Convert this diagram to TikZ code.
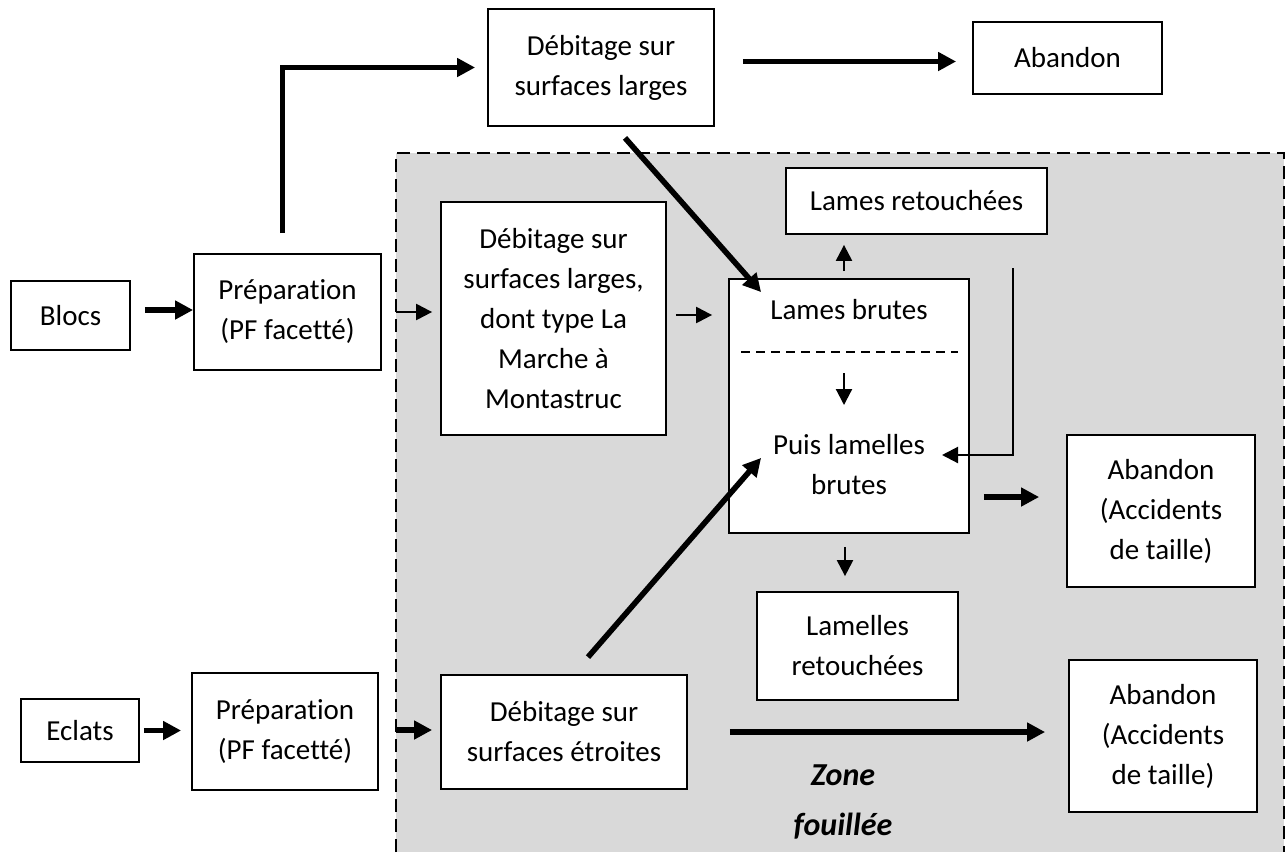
\documentclass[tikz,border=0pt]{standalone}
\usepackage{fontspec}
\setmainfont{Carlito}[Ligatures={NoCommon}]
\usetikzlibrary{arrows.meta}

\definecolor{zonegray}{RGB}{217,217,217}

\begin{document}
\begin{tikzpicture}[x=0.5pt,y=-0.5pt,
  every node/.style={font=\fontsize{14.5}{20}\selectfont},
  box/.style={draw,fill=white,line width=0.9pt,align=center,inner sep=2pt},
  thinarr/.style={line width=1.1pt,-{Triangle[length=8pt,width=8pt]}},
  thickarr/.style={line width=2.8pt,-{Triangle[length=9pt,width=9pt]}}]
  % page frame, pixel units, y downwards
  \useasboundingbox (0,0) rectangle (1288,852);

  % zone fouillee (runs off the bottom edge)
  \fill[zonegray] (396,153) rectangle (1284,852);
  \draw[line width=0.9pt,dash pattern=on 6.5pt off 3.5pt] (396,852) |- (1284,153) -- (1284,852);
  \node[font=\fontsize{16}{25}\selectfont\bfseries\itshape,align=center] (zone) at (843,802) {Zone\\fouillée};

  % left column
  \node[box,minimum width=59.5pt,minimum height=34.5pt] (blocs) at (70.5,315.5) {Blocs};
  \node[box,minimum width=93.5pt,minimum height=58pt] (prepA) at (287.5,312) {Préparation\\(PF facetté)};
  \node[box,minimum width=59pt,minimum height=31.5pt] (eclats) at (80,730.5) {Eclats};
  \node[box,minimum width=93pt,minimum height=58.5pt] (prepB) at (285,731.5) {Préparation\\(PF facetté)};

  % debitage
  \node[box,minimum width=113pt,minimum height=58.5pt] (debA) at (601,67.5) {Débitage sur\\surfaces larges};
  \node[box,minimum width=112.5pt,minimum height=116.5pt] (debB) at (553.5,318.5)
    {Débitage sur\\surfaces larges,\\dont type La\\Marche à\\Montastruc};
  \node[box,minimum width=123pt,minimum height=57pt] (debC) at (564,732) {Débitage sur\\surfaces étroites};

  % products
  \node[box,minimum width=120pt,minimum height=127pt] (brutes) at (849,406) {};
  \node (lb) at (849,310) {Lames brutes};
  \node[align=center] (pl) at (849,465) {Puis lamelles\\brutes};
  \draw[line width=0.9pt,dash pattern=on 4.5pt off 3pt] (741,352) -- (958,352);
  \coordinate (dnA) at (844,373);
  \coordinate (dnB) at (844,405);
  \node[box,minimum width=130.5pt,minimum height=33pt] (lamret) at (916.5,201) {Lames retouchées};
  \node[box,minimum width=100.5pt,minimum height=54pt] (lamlret) at (857.5,646) {Lamelles\\retouchées};

  % abandons
  \node[box,minimum width=94.5pt,minimum height=36pt] (abanA) at (1067.5,58) {Abandon};
  \node[box,minimum width=94pt,minimum height=76pt] (abanB) at (1161,511) {Abandon\\(Accidents\\de taille)};
  \node[box,minimum width=94pt,minimum height=76pt] (abanC) at (1163,736) {Abandon\\(Accidents\\de taille)};

  % connectors
  \draw[thickarr,shorten <=7pt] (blocs.east |- 0,310) -- (prepA.west |- 0,310);
  \draw[thickarr,shorten >=6pt] ([xshift=-2.5pt,yshift=10pt]prepA.north) |- (debA.west);
  \draw[thickarr,shorten <=14pt,shorten >=8pt] ([yshift=3pt]debA.east) -- ([yshift=3pt]debA.east -| abanA.west);
  \draw[thickarr] ([xshift=12pt,yshift=-5.5pt]debA.south) -- ([xshift=16.5pt,yshift=-7pt]brutes.north west);
  \draw[thinarr,shorten >=4pt] (396,312) -- (debB.west |- 0,312);
  \draw[thinarr,shorten <=4.5pt,shorten >=8pt] (debB.east |- 0,315) -- (brutes.west |- 0,315);
  \draw[thinarr,shorten <=3.5pt,shorten >=5pt] ([xshift=-2.5pt]brutes.north) -- ([xshift=-2.5pt]brutes.north |- lamret.south);
  \draw[thinarr] (dnA) -- (dnB);
  \coordinate (fbtop) at (1013,268);
  \coordinate (fbtip) at (942,455);
  \draw[thinarr] (fbtop) |- (fbtip);
  \draw[thickarr,shorten <=7pt,shorten >=13.5pt] ([yshift=7pt]abanB.west -| brutes.east) -- ([yshift=7pt]abanB.west);
  \draw[thinarr,shorten <=6.5pt,shorten >=7.5pt] ([xshift=-2pt]brutes.south) -- ([xshift=-2pt]brutes.south |- lamlret.north);
  \draw[thickarr,shorten <=2pt,shorten >=5pt] (eclats.east) -- (eclats.east -| prepB.west);
  \draw[thickarr,shorten >=4pt] (396,730) -- (debC.west |- 0,730);
  \draw[thickarr] ([xshift=12pt,yshift=8.5pt]debC.north) -- ([xshift=16.5pt,yshift=38pt]brutes.south west);
  \draw[thickarr,shorten <=21pt,shorten >=11.5pt] (debC.east) -- (debC.east -| abanC.west);
\end{tikzpicture}
\end{document}
